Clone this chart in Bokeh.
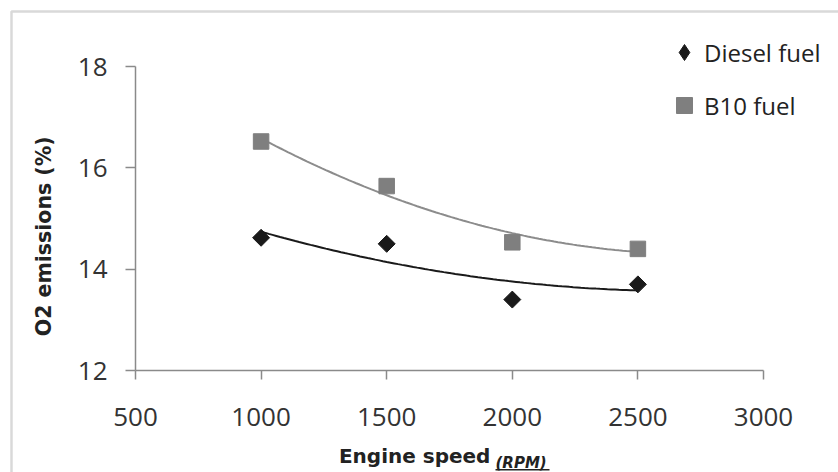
import numpy as np
from bokeh.plotting import figure
from bokeh.models import (Range1d, FixedTicker, Legend, LegendItem, Label,
                          BoxAnnotation, ColumnDataSource)
from bokeh.embed import file_html
from bokeh.resources import INLINE

# ---- data ----
engine_speed = [1000, 1500, 2000, 2500]
diesel_o2 = [14.62, 14.50, 13.40, 13.70]
b10_o2 = [16.52, 15.64, 14.53, 14.40]
x_ticks = [500, 1000, 1500, 2000, 2500, 3000]
y_ticks = [12, 14, 16, 18]
series_names = ["Diesel fuel", "B10 fuel"]

FONT = "Open Sans"
TITLE_FONT = "DejaVu Sans"
AXIS_COL = "#8a8a8a"
TEXT_COL = "#333333"
DIESEL_COL = "#1a1a1a"
B10_COL = "#7f7f7f"
B10_LINE = "#8c8c8c"

W, H = 838, 472
# axis extent in canvas pixels (frame = whole canvas, axes drawn at fixed locations)
AX_L, AX_R, AX_T, AX_B = 135, 763, 66, 370
xs_per_px = (x_ticks[-1] - x_ticks[0]) / (AX_R - AX_L)
ys_per_px = (y_ticks[-1] - y_ticks[0]) / (AX_B - AX_T)
x0 = x_ticks[0] - AX_L * xs_per_px
x1 = x_ticks[0] + (W - AX_L) * xs_per_px
y1 = y_ticks[-1] + AX_T * ys_per_px
y0 = y_ticks[0] - (H - AX_B) * ys_per_px

p = figure(width=W, height=H, output_backend="svg", toolbar_location=None,
           title=None, x_range=Range1d(x0, x1), y_range=Range1d(y0, y1),
           min_border=0)
p.background_fill_color = "white"
p.border_fill_color = "white"
p.outline_line_color = None
p.xgrid.visible = False
p.ygrid.visible = False

# axes
for ax in (p.xaxis[0], p.yaxis[0]):
    ax.axis_line_color = AXIS_COL
    ax.axis_line_width = 1.5
    ax.major_tick_line_color = AXIS_COL
    ax.major_tick_line_width = 1.5
    ax.major_tick_in = 0
    ax.minor_tick_line_color = None
    ax.major_label_text_font = FONT
    ax.major_label_text_font_size = "26px"
    ax.major_label_text_color = TEXT_COL
    ax.axis_label_text_font = TITLE_FONT
    ax.axis_label_text_font_style = "bold"
    ax.axis_label_text_color = "#222222"

p.xaxis.ticker = FixedTicker(ticks=x_ticks)
p.yaxis.ticker = FixedTicker(ticks=y_ticks)
p.xaxis.fixed_location = y_ticks[0]
p.yaxis.fixed_location = x_ticks[0]
p.xaxis.bounds = (x_ticks[0], x_ticks[-1])
p.yaxis.bounds = (y_ticks[0], y_ticks[-1])
p.xaxis.major_tick_out = 9
p.yaxis.major_tick_out = 10
p.xaxis.major_label_standoff = 28
p.yaxis.major_label_standoff = 18

nb = "\u00a0"
p.xaxis.axis_label = "Engine speed" + nb * 10
p.xaxis.axis_label_text_font_size = "20px"
p.xaxis.axis_label_standoff = 15
p.yaxis.axis_label = "O2 emissions (%)" + nb * 5
p.yaxis.axis_label_text_font_size = "20.5px"
p.yaxis.axis_label_standoff = 19

# trendlines (2nd-order polynomial fit, like the spreadsheet trendline)
xs = np.linspace(engine_speed[0], engine_speed[-1], 100)
cd = np.polyfit(engine_speed, diesel_o2, 2)
cb = np.polyfit(engine_speed, b10_o2, 2)
p.line(xs, np.polyval(cd, xs), line_color=DIESEL_COL, line_width=2)
p.line(xs, np.polyval(cb, xs), line_color=B10_LINE, line_width=2)

# markers
src = ColumnDataSource(dict(x=engine_speed, d=diesel_o2, b=b10_o2))
r_d = p.scatter("x", "d", source=src, marker="square", size=12, angle=np.pi / 4,
                fill_color=DIESEL_COL, line_color=DIESEL_COL)
r_b = p.scatter("x", "b", source=src, marker="square", size=15.5,
                fill_color=B10_COL, line_color=B10_COL)

# legend glyph for diesel (diamond shape); no visible point of its own
leg_src = ColumnDataSource(dict(x=[np.nan], y=[np.nan]))
r_dleg = p.scatter("x", "y", source=leg_src, marker="diamond", size=16,
                   fill_color=DIESEL_COL, line_color=DIESEL_COL)

legend = Legend(items=[LegendItem(label=series_names[0], renderers=[r_dleg]),
                       LegendItem(label=series_names[1], renderers=[r_b])],
                location=(664, H - 125), orientation="vertical",
                glyph_width=40, glyph_height=40, spacing=13,
                label_standoff=0, padding=0, margin=0,
                border_line_color=None, background_fill_alpha=0,
                label_text_font=FONT, label_text_font_size="24px",
                label_text_color="#222222")
p.add_layout(legend, "center")

# "(RPM)" unit text and underline
p.add_layout(Label(x=495, y=462, x_units="canvas", y_units="canvas",
                   text="(RPM)", text_font=TITLE_FONT, text_font_size="15px",
                   text_font_style="bold italic", text_color="#222222",
                   text_baseline="middle", text_align="left"))
p.add_layout(BoxAnnotation(left=495, right=549, top=468.5, bottom=470,
                           left_units="canvas", right_units="canvas",
                           top_units="canvas", bottom_units="canvas",
                           fill_color="#222222", fill_alpha=1, line_color=None))

# chart border (left and top visible)
p.add_layout(BoxAnnotation(left=11, right=2000, top=11, bottom=2000,
                           left_units="canvas", right_units="canvas",
                           top_units="canvas", bottom_units="canvas",
                           fill_alpha=0, line_color="#808080", line_width=2.5))

open("out.html", "w").write(file_html(p, INLINE))
